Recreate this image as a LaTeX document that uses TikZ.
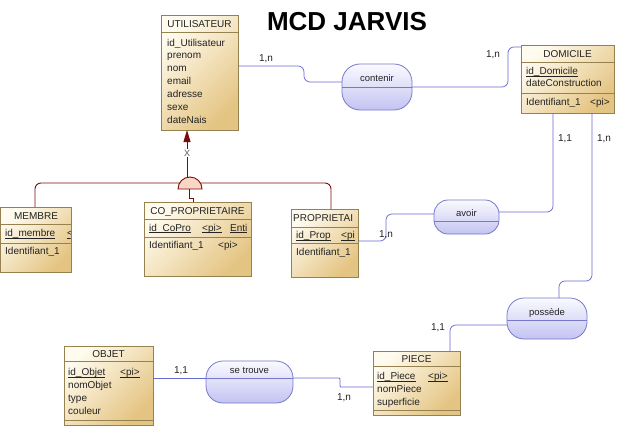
\documentclass[tikz,border=0pt]{standalone}
\usepackage{fontspec}
\setmainfont{Liberation Sans}
\usetikzlibrary{arrows.meta,calc}
\definecolor{entb}{RGB}{150,130,80}
\definecolor{entl}{RGB}{255,251,238}
\definecolor{entd}{RGB}{228,196,130}
\definecolor{ascb}{RGB}{120,120,205}
\definecolor{ascl}{RGB}{250,250,255}
\definecolor{ascd}{RGB}{195,195,242}
\definecolor{lnkc}{RGB}{105,105,210}
\definecolor{inhc}{RGB}{125,10,10}
\definecolor{hcfill}{RGB}{250,214,196}
\definecolor{tx}{RGB}{35,35,35}
\newcommand{\myul}[1]{\setbox0\hbox{#1}\rlap{\rule[-1.6pt]{\wd0}{0.55pt}}\box0}
\begin{document}
\begin{tikzpicture}[x=1pt,y=-1pt,
 ent/.style={draw=entb,line width=0.8pt,top color=entl,bottom color=entd,shading angle=45,anchor=north west,inner sep=0pt,outer sep=0pt},
 sepl/.style={draw=entb,line width=0.8pt},
 hd/.style={inner sep=0pt,text height=7.2pt,text depth=0pt,font=\fontsize{10}{12}\selectfont,text=tx},
 att/.style={hd,anchor=west},
 asc/.style={draw=ascb,line width=0.8pt,top color=ascl,bottom color=ascd,inner sep=0pt,outer sep=0pt},
 midl/.style={draw=ascb,line width=0.8pt},
 atxt/.style={inner sep=0pt,text height=7pt,text depth=0pt,font=\fontsize{9.5}{11}\selectfont,text=tx},
 lnk/.style={draw=lnkc,line width=0.75pt,rounded corners=6pt},
 card/.style={inner sep=0pt,text height=7pt,text depth=0pt,font=\fontsize{10}{12}\selectfont,text=tx},
 inh/.style={draw=inhc,line width=0.9pt},
]
\useasboundingbox (0,0) rectangle (617,426);

% Title
\node[inner sep=0pt,text height=18.6pt,text depth=0pt,font=\fontsize{26}{30}\selectfont\bfseries] (title) at (347,21) {MCD JARVIS};

% UTILISATEUR
\node[ent,minimum width=77pt,minimum height=115pt] (util) at (161,15) {};
\draw[sepl] (util.west |- 0,32) -- (util.east |- 0,32);
\node[hd] (utilH) at (util.north |- 0,24) {UTILISATEUR};
\node[att] (u1) at (167,42.5) {id\_Utilisateur};
\node[att] (u2) at (167,55) {prenom};
\node[att] (u3) at (167,68) {nom};
\node[att] (u4) at (167,80.5) {email};
\node[att] (u5) at (167,93.5) {adresse};
\node[att] (u6) at (167,106.5) {sexe};
\node[att] (u7) at (167,119.5) {dateNais};

% DOMICILE
\node[ent,minimum width=93pt,minimum height=68pt] (dom) at (521,45) {};
\draw[sepl] (dom.west |- 0,62) -- (dom.east |- 0,62);
\draw[sepl] (dom.west |- 0,93) -- (dom.east |- 0,93);
\node[hd] (domH) at (dom.north |- 0,53.5) {DOMICILE};
\begin{scope}
\clip (dom.north west) rectangle ([xshift=-0.8pt]dom.south east);
\node[att] (d1) at (526,71) {\myul{id\_Domicile}};
\node[att] (d2) at (526,83) {dateConstruction};
\node[att] (d3) at (526,102) {Identifiant\_1};
\node[att] (d4) at (590,102) {<pi>};
\end{scope}

% MEMBRE
\node[ent,minimum width=71pt,minimum height=65pt] (memb) at (0.5,207) {};
\draw[sepl] (memb.west |- 0,224) -- (memb.east |- 0,224);
\draw[sepl] (memb.west |- 0,243) -- (memb.east |- 0,243);
\node[hd] (membH) at (memb.north |- 0,215.5) {MEMBRE};
\begin{scope}
\clip (memb.north west) rectangle ([xshift=-0.8pt]memb.south east);
\node[att] (m1) at (5,233) {\myul{id\_membre}};
\node[att] (m2) at (67,233) {\myul{<}};
\node[att] (m3) at (5,251) {Identifiant\_1};
\end{scope}

% CO_PROPRIETAIRE
\node[ent,minimum width=107pt,minimum height=74pt] (copro) at (144,202) {};
\draw[sepl] (copro.west |- 0,219) -- (copro.east |- 0,219);
\draw[sepl] (copro.west |- 0,237) -- (copro.east |- 0,237);
\node[hd] (coproH) at (copro.north |- 0,210.5) {CO\_PROPRIETAIRE};
\begin{scope}
\clip (copro.north west) rectangle ([xshift=-0.8pt]copro.south east);
\node[att] (c1) at (149,227.5) {\myul{id\_CoPro}};
\node[att] (c2) at (202,227.5) {\myul{<pi>}};
\node[att] (c3) at (230,227.5) {\myul{Enti}};
\node[att] (c4) at (149,245) {Identifiant\_1};
\node[att] (c5) at (218,245) {<pi>};
\end{scope}

% PROPRIETAI
\node[ent,minimum width=67pt,minimum height=68pt] (prop) at (291,209) {};
\draw[sepl] (prop.west |- 0,227) -- (prop.east |- 0,227);
\draw[sepl] (prop.west |- 0,243) -- (prop.east |- 0,243);
\begin{scope}
\clip (prop.north west) rectangle ([xshift=-0.8pt]prop.south east);
\node[att] (propH) at (293,217.5) {PROPRIETAI};
\node[att] (p1) at (296,235) {\myul{id\_Prop}};
\node[att] (p2) at (341,235) {\myul{<pi}};
\node[att] (p3) at (296,252) {Identifiant\_1};
\end{scope}

% OBJET
\node[ent,minimum width=89pt,minimum height=79pt] (objet) at (64,346) {};
\draw[sepl] (objet.west |- 0,361) -- (objet.east |- 0,361);
\draw[sepl] (objet.west |- 0,420) -- (objet.east |- 0,420);
\node[hd] (objetH) at (objet.north |- 0,353.5) {OBJET};
\node[att] (o1) at (68,372) {\myul{id\_Objet}};
\node[att] (o2) at (120,372) {\myul{<pi>}};
\node[att] (o3) at (68,385) {nomObjet};
\node[att] (o4) at (68,398) {type};
\node[att] (o5) at (68,410.5) {couleur};

% PIECE
\node[ent,minimum width=87pt,minimum height=64pt] (piece) at (373,351) {};
\draw[sepl] (piece.west |- 0,366) -- (piece.east |- 0,366);
\draw[sepl] (piece.west |- 0,410.5) -- (piece.east |- 0,410.5);
\node[hd] (pieceH) at (piece.north |- 0,358.5) {PIECE};
\node[att] (pc1) at (377,376) {\myul{id\_Piece}};
\node[att] (pc2) at (428,376) {\myul{<pi>}};
\node[att] (pc3) at (377,389) {nomPiece};
\node[att] (pc4) at (377,402) {superficie};

% Associations
\node[asc,minimum width=70pt,minimum height=46pt,rounded corners=18pt] (contenir) at (377,87) {};
\draw[midl] (contenir.west) -- (contenir.east);
\node[atxt] (contenirT) at (377,78) {contenir};

\node[asc,minimum width=65pt,minimum height=34pt,rounded corners=14pt] (avoir) at (466.5,217) {};
\draw[midl] (avoir.west |- 0,221.5) -- (avoir.east |- 0,221.5);
\node[atxt] (avoirT) at (466.5,213) {avoir};

\node[asc,minimum width=80pt,minimum height=41pt,rounded corners=17pt] (possede) at (547,318.5) {};
\draw[midl] (possede.west |- 0,320) -- (possede.east |- 0,320);
\node[atxt] (possedeT) at (547,312) {possède};

\node[asc,minimum width=87pt,minimum height=42pt,rounded corners=17pt] (setrouve) at (249.5,382) {};
\draw[midl] (setrouve.west |- 0,378) -- (setrouve.east |- 0,378);
\node[atxt] (setrouveT) at (249.5,370) {se trouve};

% Links
\draw[lnk] (util.east |- 0,66) -| ($(contenir.west)+(-38,-5)$) -- ([yshift=5pt]contenir.west);
\draw[lnk] (contenir.east) -| ($(dom.north west)+(-13,2)$) -- ([yshift=-2pt]dom.north west);
\draw[lnk] ([xshift=32pt]dom.south west) |- ([yshift=5pt]avoir.east);
\draw[lnk] ([xshift=71pt]dom.south west) |- ($(possede.north)+(12,-17)$) -- ([xshift=12pt]possede.north);
\draw[lnk] ([yshift=-6.5pt]possede.west) -| ([xshift=77pt]piece.north west);
\draw[lnk] ([yshift=3pt]avoir.west) -| ($(prop.east)+(28,-2)$) -- ([yshift=2pt]prop.east);
\coordinate (stW) at ([yshift=4pt]setrouve.west);
\draw[lnk,rounded corners=0pt] (objet.east |- stW) -- (stW);
\draw[lnk,rounded corners=1pt] ([yshift=4pt]setrouve.east) -| ($(piece.west)+(-33,4)$) -- ([yshift=-4pt]piece.west);

% Cardinalities
\node[card] (k1) at (266,58) {1,n};
\node[card] (k2) at (493,54) {1,n};
\node[card] (k3) at (565,138) {1,1};
\node[card] (k4) at (604,138) {1,n};
\node[card] (k5) at (386,234) {1,n};
\node[card] (k6) at (438,327) {1,1};
\node[card] (k7) at (181,370) {1,1};
\node[card] (k8) at (344,397) {1,n};

% Inheritance
\draw[inh,rounded corners=6pt] (memb.north -| 35,0) -- (35,183) -- (331,183) -- (prop.north -| 331,0);
\filldraw[inh,fill=hcfill] (178,189) arc[start angle=180,end angle=0,radius=12pt] -- cycle;
\coordinate (hcTop) at (187,177);
\coordinate (hcBot) at (189,189);
\draw[inh,-{Triangle[length=12pt,width=7pt]}] (hcTop) -- (util.south -| hcTop);
\node[fill=white,inner sep=1pt,text height=6.5pt,text depth=0pt,font=\fontsize{9}{10}\selectfont,text=black!65] (xl) at (187,153) {X};
\draw[inh] (hcBot) -- (189,198) -- (193,198) -- (copro.north -| 193,0);
\end{tikzpicture}
\end{document}
